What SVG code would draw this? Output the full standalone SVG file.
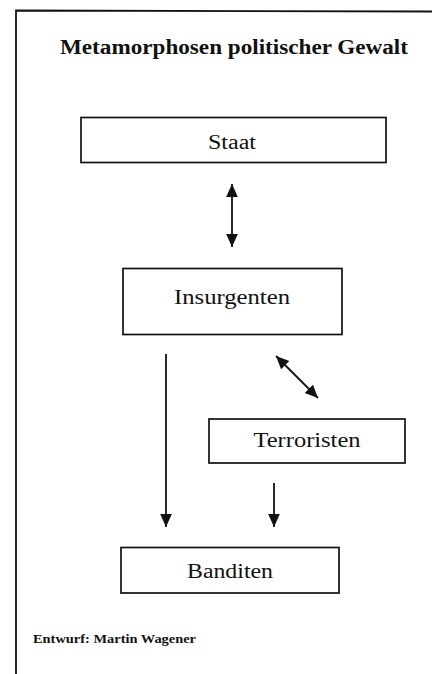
<svg xmlns="http://www.w3.org/2000/svg" width="432" height="674" viewBox="0 0 432 674">
<style>
.box{fill:#fff;stroke:#111;stroke-width:1.7}
.lbl{font-family:"Liberation Serif","DejaVu Serif",serif;font-size:20px;fill:#111;text-anchor:middle}
.con{stroke:#111;stroke-width:1.8;fill:none}
</style>
<defs>
<marker id="ahb" viewBox="0 0 10 10" refX="10" refY="5" markerWidth="13" markerHeight="13" markerUnits="userSpaceOnUse" orient="auto-start-reverse">
<path d="M0,0.5 L10,5 L0,9.5 z" fill="#111"/>
</marker>
</defs>
<rect width="432" height="674" fill="#fff"/>
<g id="frame">
<path d="M16,674 L16,10.5 L432,11.5" class="con"/>
</g>
<g id="title">
<text x="234" y="54" font-family="Liberation Serif, DejaVu Serif, serif" font-weight="bold" font-size="20" fill="#111" text-anchor="middle" textLength="348" lengthAdjust="spacingAndGlyphs">Metamorphosen politischer Gewalt</text>
</g>
<g id="connectors">
<line x1="232" y1="184" x2="232" y2="247" class="con" marker-start="url(#ahb)" marker-end="url(#ahb)"/>
<line x1="276" y1="356" x2="318" y2="398" class="con" marker-start="url(#ahb)" marker-end="url(#ahb)"/>
<line x1="166" y1="354" x2="166" y2="527" class="con" marker-end="url(#ahb)"/>
<line x1="274" y1="483" x2="274" y2="527" class="con" marker-end="url(#ahb)"/>
</g>
<g id="staat">
<rect x="81" y="117.5" width="305" height="45" class="box"/>
<text x="232" y="149" class="lbl" textLength="48" lengthAdjust="spacingAndGlyphs">Staat</text>
</g>
<g id="insurgenten">
<rect x="123" y="268.5" width="219" height="66" class="box"/>
<text x="232" y="304" class="lbl" textLength="116" lengthAdjust="spacingAndGlyphs">Insurgenten</text>
</g>
<g id="terroristen">
<rect x="209" y="419" width="196" height="44" class="box"/>
<text x="307" y="447" class="lbl" textLength="107" lengthAdjust="spacingAndGlyphs">Terroristen</text>
</g>
<g id="banditen">
<rect x="121" y="547.5" width="218" height="45.5" class="box"/>
<text x="230" y="578" class="lbl" textLength="86" lengthAdjust="spacingAndGlyphs">Banditen</text>
</g>
<g id="credit">
<text x="33" y="643" font-family="Liberation Serif, DejaVu Serif, serif" font-weight="bold" font-size="13.5" fill="#111" textLength="163" lengthAdjust="spacingAndGlyphs">Entwurf: Martin Wagener</text>
</g>
</svg>
